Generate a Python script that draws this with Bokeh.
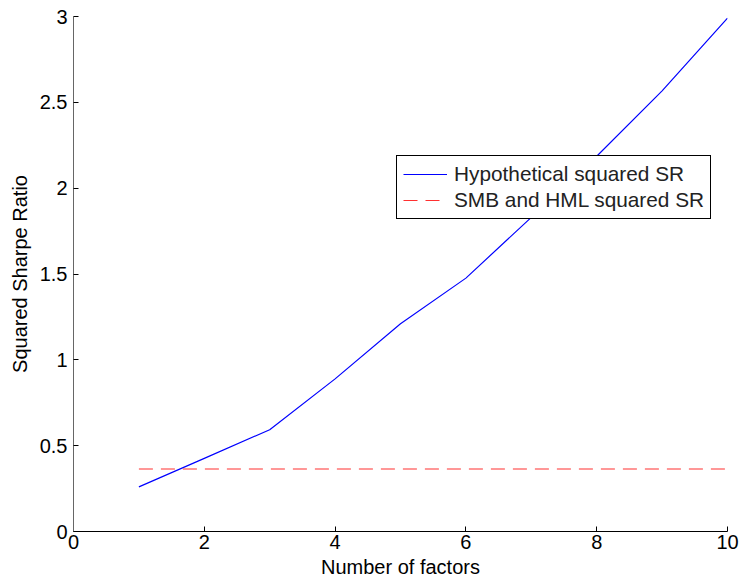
from bokeh.plotting import figure
from bokeh.models import Range1d, FixedTicker, Legend, LegendItem
from bokeh.embed import file_html
from bokeh.resources import INLINE

factors = [1, 2, 3, 4, 5, 6, 7, 8, 9, 10]
hypothetical_sr2 = [0.26, 0.426, 0.593, 0.889, 1.21, 1.476, 1.83, 2.186, 2.567, 2.99]
smb_hml_sr2 = [0.364] * 10
x_ticks = [0, 2, 4, 6, 8, 10]
y_ticks = [0, 0.5, 1, 1.5, 2, 2.5, 3]

FONT = "Liberation Sans"

p = figure(width=741, height=585, output_backend="svg", toolbar_location=None,
           x_range=Range1d(0, 10), y_range=Range1d(0, 3),
           min_border_left=73, min_border_right=14, min_border_top=16, min_border_bottom=54)
p.outline_line_color = None
p.grid.visible = False
p.background_fill_color = "white"
p.border_fill_color = "white"

r1 = p.line(factors, hypothetical_sr2, line_color="#0000ff", line_width=1.2)
r2 = p.line(factors, smb_hml_sr2, line_color="#ff3030", line_width=1.2, line_dash="14 8")

for ax in (p.xaxis[0], p.yaxis[0]):
    ax.major_tick_in = 5
    ax.major_tick_out = 0
    ax.minor_tick_in = 0
    ax.minor_tick_out = 0
    ax.major_label_text_font = FONT
    ax.major_label_text_font_size = "20px"
    ax.major_label_text_color = "black"
    ax.axis_label_text_font = FONT
    ax.axis_label_text_font_size = "20px"
    ax.axis_label_text_font_style = "normal"
    ax.axis_label_text_color = "black"
    ax.axis_line_color = "black"
    ax.major_tick_line_color = "black"

p.xaxis[0].ticker = FixedTicker(ticks=x_ticks)
p.yaxis[0].ticker = FixedTicker(ticks=y_ticks)
p.xaxis[0].axis_label = "Number of factors"
p.yaxis[0].axis_label = "Squared Sharpe Ratio"
p.xaxis[0].major_label_standoff = 3
p.yaxis[0].major_label_standoff = 6
p.xaxis[0].axis_label_standoff = 4
p.yaxis[0].axis_label_standoff = 6
p.yaxis[0].axis_line_color = "#666666"

legend = Legend(items=[LegendItem(label="Hypothetical squared SR", renderers=[r1]),
                       LegendItem(label="SMB and HML squared SR", renderers=[r2])],
                location=(323, 312))
legend.label_text_font = FONT
legend.label_text_font_size = "20.8px"
legend.label_text_color = "#222222"
legend.border_line_color = "black"
legend.border_line_alpha = 1.0
legend.border_line_width = 1.5
legend.background_fill_alpha = 1
legend.glyph_width = 44
legend.glyph_height = 24
legend.label_height = 24
legend.spacing = 2
legend.padding = 6
legend.margin = 0
legend.label_standoff = 7
p.add_layout(legend, "center")

open("out.html", "w").write(file_html(p, INLINE))
